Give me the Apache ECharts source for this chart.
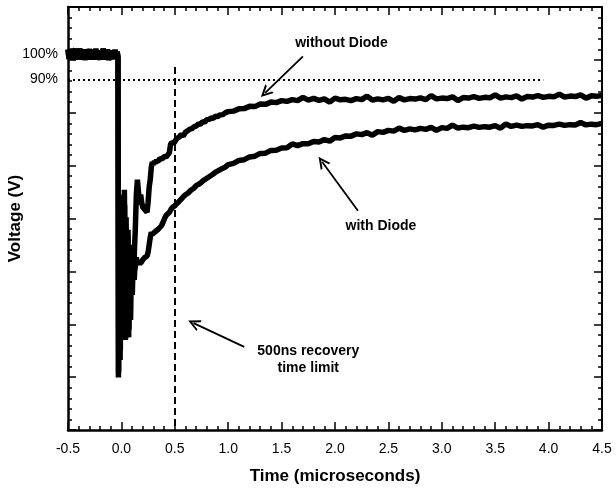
<!DOCTYPE html>
<html>
<head>
<meta charset="utf-8">
<script src="https://cdn.jsdelivr.net/npm/echarts@6/dist/echarts.min.js"></script>
<style>
html,body{margin:0;padding:0;background:#fff;}
#chart{width:616px;height:488px;}
</style>
</head>
<body>
<div id="chart"></div>
<script>
// ---- data (time in microseconds, voltage in % of initial level) ----
const xTickLabels = ['-0.5','0.0','0.5','1.0','1.5','2.0','2.5','3.0','3.5','4.0','4.5'];
const yTickLabels = {100: '100%', 90: '90%'};

// common pre-pulse segment (both traces)
const preT = [-0.5,-0.49,-0.48,-0.47,-0.46,-0.45,-0.44,-0.43,-0.42,-0.41,-0.40,-0.39,-0.38,-0.37,-0.36,-0.35,-0.34,-0.33,-0.32,-0.31,-0.30,-0.29,-0.28,-0.27,-0.26,-0.25,-0.24,-0.23,-0.22,-0.21,-0.20,-0.19,-0.18,-0.17,-0.16,-0.15,-0.14,-0.13,-0.12,-0.11,-0.10,-0.09,-0.08,-0.07,-0.06,-0.05,-0.04];
const preV = [102.0,98.2,102.1,98.6,102.3,97.9,101.4,102.2,98.1,101.8,98.3,102.4,98.0,101.7,98.5,102.1,97.8,101.9,101.0,98.0,102.2,98.4,101.8,97.9,102.0,98.8,102.3,98.1,101.4,102.1,98.0,101.6,98.3,102.4,97.9,101.8,98.5,102.0,97.8,101.5,102.2,98.2,101.7,98.3,101.9,98.3,101.2];

// without Diode - early recovery
const noDiodeEarlyT = [-0.032,-0.028,-0.024,-0.02,-0.016,-0.012,-0.008,-0.004,0.0,0.004,0.008,0.012,0.016,0.02,0.024,0.028,0.032,0.036,0.04,0.044,0.048,0.052,0.056,0.06,0.064,0.068,0.072,0.076,0.08,0.084,0.088,0.092,0.096,0.1,0.104,0.108,0.112,0.116,0.12,0.124,0.13,0.14,0.15,0.16,0.17,0.18,0.19,0.2,0.21,0.22,0.23,0.24,0.25,0.26,0.27,0.28,0.29,0.30,0.31,0.32,0.33,0.34,0.35,0.36,0.37,0.38,0.39,0.40,0.41,0.42,0.43,0.44,0.45,0.46,0.47,0.48,0.49,0.50,0.52,0.54,0.56,0.58,0.60,0.62,0.64,0.66,0.68,0.70,0.72,0.74,0.76,0.78,0.80,0.82,0.84,0.86,0.88,0.90,0.925,0.95,0.975];
const noDiodeEarlyV = [99,-29,10,38,-5,-22,15,44,20,-8,12,30,5,-14,18,46,25,2,20,35,12,-10,8,28,10,-13,4,20,12,5,16,24,15,8,14,18,10,12,19,24,30,44,50,45,40,44,41,39,38.5,38,37.5,37,41,47,50,55,57,56,57.5,56.5,58,57.2,57,58.4,59,58.2,58,59.3,60,59.1,59.5,60.2,61,64,64.8,65.5,64.6,65,66.5,67,68,67.5,69,69.6,70.2,70.4,71.2,71.4,72.3,72.1,73.2,73.0,74.0,74.1,74.7,74.5,75.4,75.2,75.9,76.0,76.8];

// with Diode - early recovery
const withDiodeEarlyT = [-0.032,-0.026,-0.022,-0.018,-0.014,-0.01,-0.006,-0.002,0.002,0.006,0.01,0.014,0.018,0.022,0.026,0.03,0.034,0.038,0.042,0.046,0.05,0.054,0.058,0.062,0.066,0.07,0.074,0.078,0.082,0.086,0.09,0.094,0.098,0.102,0.106,0.11,0.115,0.12,0.125,0.13,0.14,0.15,0.16,0.17,0.18,0.19,0.2,0.21,0.22,0.23,0.24,0.25,0.26,0.27,0.28,0.29,0.30,0.315,0.33,0.345,0.36,0.375,0.39,0.405,0.42,0.435,0.45,0.465,0.48,0.50,0.52,0.54,0.56,0.58,0.60,0.625,0.65,0.675,0.70,0.725,0.75,0.775,0.80,0.825,0.85,0.875,0.90,0.925,0.95,0.975];
const withDiodeEarlyV = [99,-27,-5,20,2,-18,10,36,14,-12,6,25,10,-5,14,40,12,-14,4,22,8,-3,12,30,8,-10,2,10,0,-6,6,14,9,4,11,18,13,10,14,15,19,16,17.5,16.5,16,17.2,18,18.6,19,19.4,19.5,21,24,27,29,28.2,28,29.2,29.5,30.2,30.8,31.6,33,34.6,35.8,36.4,37,38.2,39,39.6,40.5,41.3,42.2,43.2,44,44.7,45.8,46.5,47.6,48.2,49,49.9,50.6,51.3,52,52.8,53.4,54.0,54.6,55.1];

// late part, shared sampling times
const lateT = [1.00,1.05,1.10,1.15,1.20,1.25,1.30,1.35,1.40,1.45,1.50,1.55,1.60,1.65,1.70,1.75,1.80,1.85,1.90,1.95,2.00,2.05,2.10,2.15,2.20,2.25,2.30,2.35,2.40,2.45,2.50,2.55,2.60,2.65,2.70,2.75,2.80,2.85,2.90,2.95,3.00,3.05,3.10,3.15,3.20,3.25,3.30,3.35,3.40,3.45,3.50,3.55,3.60,3.65,3.70,3.75,3.80,3.85,3.90,3.95,4.00,4.05,4.10,4.15,4.20,4.25,4.30,4.35,4.40,4.45,4.50];
const noDiodeLateV = [77.2,77.4,78.3,78.4,79.3,79.2,80.2,80.1,81.0,80.8,81.6,81.3,82.0,81.6,82.9,81.8,82.5,81.7,82.3,81.0,82.6,81.9,82.1,81.6,82.4,82.0,83.4,81.8,82.3,81.9,82.5,81.3,82.8,81.9,82.4,82.2,82.7,82.0,83.6,82.3,82.6,82.4,83.1,81.6,82.8,82.6,83.2,82.5,82.9,82.7,83.9,82.6,83.1,82.8,83.5,82.2,83.2,83.0,83.6,82.9,83.3,83.1,84.2,83.0,83.4,83.2,83.9,82.6,83.5,83.3,83.7];
const withDiodeLateV = [56.0,56.5,57.7,58.0,59.1,59.4,60.5,60.6,61.7,61.8,62.7,62.8,64.3,63.6,64.4,64.4,65.3,65.1,66.0,65.4,66.9,66.7,67.5,67.4,68.3,68.0,68.8,67.8,69.2,68.9,69.7,69.4,70.6,69.7,70.3,69.9,70.5,70.1,70.9,69.7,70.8,70.5,71.8,70.6,71.0,70.8,71.4,70.9,71.2,71.0,71.6,70.6,72.3,71.3,71.8,71.3,71.6,71.5,72.0,71.0,71.8,71.7,72.2,71.7,72.0,71.9,72.9,71.9,72.2,72.0,72.5];

// reference levels / annotations
const level90 = 90;
const level90End = 3.95;
const limitTime = 0.5;
const limitTop = 95;
const annotations = [
  {text: 'without Diode', at: [2.06, 104.4], arrowFrom: [1.70, 99.3], arrowTo: [1.346, 84.7]},
  {text: 'with Diode', at: [2.43, 31.6], arrowFrom: [2.215, 37.6], arrowTo: [1.879, 57.2]},
  {text: '500ns recovery\ntime limit', at: [1.75, -22], arrowFrom: [1.15, -16.8], arrowTo: [0.676, -7.3]}
];

// ---- build ----
function zip(ts, vs) { return ts.map((t, i) => [t, vs[i]]); }
const noDiodeData = zip(preT, preV).concat(zip(noDiodeEarlyT, noDiodeEarlyV), zip(lateT, noDiodeLateV));
const withDiodeData = zip(preT, preV).concat(zip(withDiodeEarlyT, withDiodeEarlyV), zip(lateT, withDiodeLateV));

const FONT = "'Liberation Sans', Arial, Helvetica, sans-serif";
const X_MIN = -0.5, X_MAX = 4.5, Y_MIN = -50, Y_MAX = 119;
const chevron = 'path://M5,0 L10,10 L8.2,10 L5,3.6 L1.8,10 L0,10 Z';

function tickAxis(extra) {
  return Object.assign({
    axisLabel: {show: false},
    splitLine: {show: false},
    axisTick: {show: true, inside: true, length: 8, lineStyle: {color: '#000', width: 1.5}},
    minorTick: {show: true, splitNumber: 5, length: 4, lineStyle: {color: '#000', width: 1.5}},
    minorSplitLine: {show: false}
  }, extra);
}

const chart = echarts.init(document.getElementById('chart'), null, {renderer: 'canvas'});
chart.setOption({
  backgroundColor: '#fff',
  animation: false,
  grid: {left: 68, right: 14, top: 7, bottom: 58, containLabel: false, outerBoundsMode: 'none'},
  xAxis: [
    tickAxis({
      type: 'value', position: 'bottom', min: X_MIN, max: X_MAX, interval: 0.5,
      axisLine: {show: true, onZero: false, lineStyle: {color: '#000', width: 2.5}},
      axisLabel: {show: true, margin: 12, color: '#000', fontSize: 14, fontFamily: FONT,
        formatter: (v) => xTickLabels[Math.round((v - X_MIN) / 0.5)]},
      name: 'Time (microseconds)', nameLocation: 'middle', nameGap: 38, nameMoveOverlap: false,
      nameTextStyle: {color: '#000', fontSize: 17, fontWeight: 'bold', fontFamily: FONT}
    }),
    tickAxis({
      type: 'value', position: 'top', min: X_MIN, max: X_MAX, interval: 0.5,
      axisLine: {show: true, onZero: false, lineStyle: {color: '#000', width: 2}}
    })
  ],
  yAxis: [
    {
      type: 'value', position: 'left', min: Y_MIN, max: Y_MAX, interval: 10,
      axisLine: {show: true, onZero: false, lineStyle: {color: '#000', width: 2.5}},
      axisTick: {show: false}, splitLine: {show: false},
      axisLabel: {show: true, margin: 10, color: '#000', fontSize: 14, fontFamily: FONT,
        formatter: (v) => yTickLabels[Math.round(v)] || ''},
      name: 'Voltage (V)', nameLocation: 'middle', nameGap: 44, nameMoveOverlap: false,
      nameTextStyle: {color: '#000', fontSize: 17, fontWeight: 'bold', fontFamily: FONT}
    },
    tickAxis({
      type: 'value', position: 'left', min: 0, max: 8, interval: 1,
      axisLine: {show: false, onZero: false}
    }),
    tickAxis({
      type: 'value', position: 'right', min: 0, max: 8, interval: 1,
      axisLine: {show: true, onZero: false, lineStyle: {color: '#000', width: 2}}
    })
  ],
  series: [
    {
      name: 'without Diode', type: 'line', xAxisIndex: 0, yAxisIndex: 0,
      data: noDiodeData, showSymbol: false, symbol: 'none',
      lineStyle: {color: '#000', width: 5.5, join: 'bevel'}, z: 3
    },
    {
      name: 'with Diode', type: 'line', xAxisIndex: 0, yAxisIndex: 0,
      data: withDiodeData, showSymbol: false, symbol: 'none',
      lineStyle: {color: '#000', width: 5.5, join: 'bevel'}, z: 3
    },
    {
      name: 'reference lines', type: 'line', xAxisIndex: 0, yAxisIndex: 0, data: [],
      markLine: {
        silent: true, symbol: 'none', animation: false,
        label: {show: false},
        data: [
          [{coord: [X_MIN, level90], lineStyle: {type: [2, 3], width: 2, color: '#000'}}, {coord: [level90End, level90]}],
          [{coord: [limitTime, limitTop], lineStyle: {type: [7, 4], width: 2, color: '#000'}}, {coord: [limitTime, Y_MIN]}]
        ]
      }
    },
    {
      name: 'annotations', type: 'line', xAxisIndex: 0, yAxisIndex: 0, data: [],
      markLine: {
        silent: true, animation: false,
        symbol: ['none', chevron], symbolSize: 12,
        label: {show: false},
        lineStyle: {type: 'solid', width: 1.8, color: '#000'},
        data: annotations.map(a => [{coord: a.arrowFrom}, {coord: a.arrowTo}])
      },
      markPoint: {
        silent: true, animation: false,
        symbol: 'circle', symbolSize: 1,
        itemStyle: {color: 'rgba(0,0,0,0)'},
        label: {show: true, position: 'inside', color: '#000', fontSize: 14, fontWeight: 'bold',
          fontFamily: FONT, lineHeight: 17, align: 'center',
          formatter: (p) => p.name},
        data: annotations.map(a => ({name: a.text, coord: a.at}))
      }
    }
  ]
});
</script>
</body>
</html>
